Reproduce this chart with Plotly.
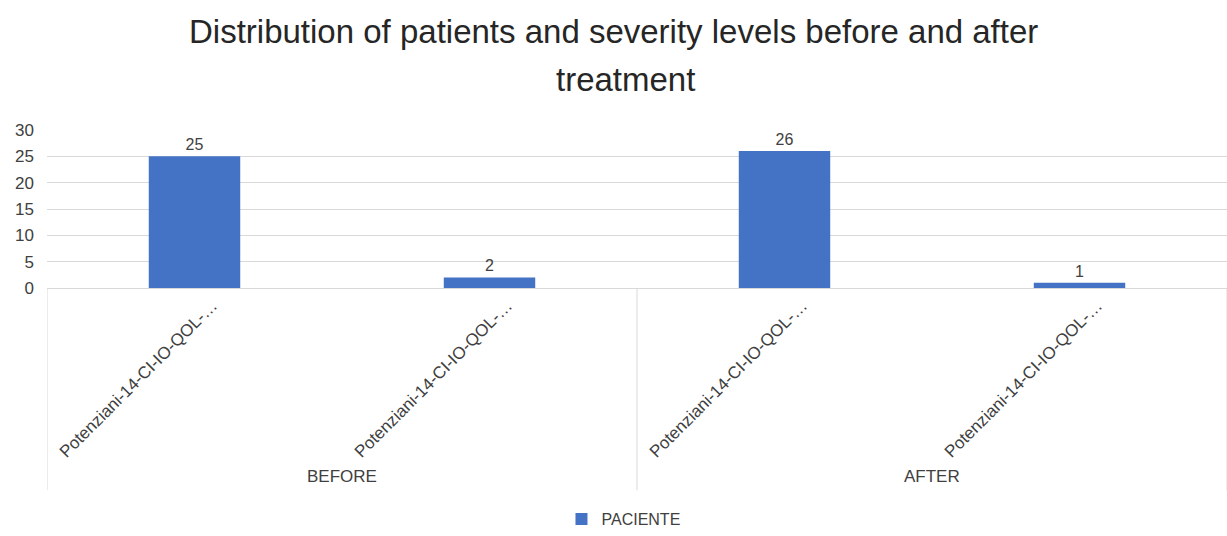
import plotly.graph_objects as go

# Chart data
groups = ["BEFORE", "BEFORE", "AFTER", "AFTER"]
categories = ["Potenziani-14-CI-IO-QOL-…", "Potenziani-14-CI-IO-QOL-…",
              "Potenziani-14-CI-IO-QOL-…", "Potenziani-14-CI-IO-QOL-…"]
paciente = [25, 2, 26, 1]
group_names = ["BEFORE", "AFTER"]
title_lines = ["Distribution of patients and severity levels before and after", "treatment"]
y_ticks = [0, 5, 10, 15, 20, 25, 30]

positions = list(range(len(categories)))
FONT = "Liberation Sans, Arial, sans-serif"
TEXT = "#404040"

fig = go.Figure()
fig.add_trace(go.Bar(
    x=positions,
    y=paciente,
    name="PACIENTE",
    marker=dict(color="#4472C4", line=dict(width=0)),
    width=0.31,
    text=paciente,
    textposition="outside",
    textfont=dict(size=16, color=TEXT, family=FONT),
    cliponaxis=False,
))

# Two-line chart title, one annotation per line for tighter control of spacing
for line, xpos, ypos in zip(title_lines, [0.4805, 0.49], [1.625, 1.322]):
    fig.add_annotation(
        x=xpos, y=ypos, xref="paper", yref="paper",
        text=line, showarrow=False, xanchor="center", yanchor="middle",
        font=dict(size=33, color="#262626", family=FONT),
    )

# Group labels beneath the category labels, centred on each pair of bars
for i, g in enumerate(group_names):
    fig.add_annotation(
        x=2 * i + 0.5, y=-1.194, xref="x", yref="paper",
        text=g, showarrow=False, yanchor="middle",
        font=dict(size=17, color=TEXT, family=FONT),
    )

# Vertical separators for the grouped category axis
for xv in [-0.5, 1.5, 3.5]:
    fig.add_shape(
        type="line", xref="x", yref="paper",
        x0=xv, x1=xv, y0=0, y1=-1.28,
        line=dict(color="#d9d9d9", width=1),
    )

fig.update_layout(
    width=1227, height=536,
    margin=dict(l=47, r=0, t=130, b=246),
    paper_bgcolor="white", plot_bgcolor="white",
    font=dict(family=FONT, color=TEXT),
    showlegend=True,
    legend=dict(
        orientation="h", x=0.436, xanchor="left", y=-1.469, yanchor="middle",
        font=dict(size=16, color=TEXT, family=FONT),
    ),
)

# Rotated category labels sit slightly right of each bar's centre
fig.update_xaxes(
    range=[-0.5, 3.5],
    tickmode="array", tickvals=[p + 0.06 for p in positions], ticktext=categories,
    tickangle=-45, tickfont=dict(size=17, color=TEXT, family=FONT),
    showgrid=False, showline=True, linecolor="#d9d9d9", linewidth=1,
    ticks="", zeroline=False, fixedrange=True,
)
fig.update_yaxes(
    range=[0, 30], tickmode="array", tickvals=y_ticks,
    tickfont=dict(size=17, color=TEXT, family=FONT),
    showgrid=True, gridcolor="#d9d9d9", gridwidth=1,
    showline=False, zeroline=False, ticks="", ticklabelstandoff=12,
    fixedrange=True,
)

fig.write_html("out.html")
